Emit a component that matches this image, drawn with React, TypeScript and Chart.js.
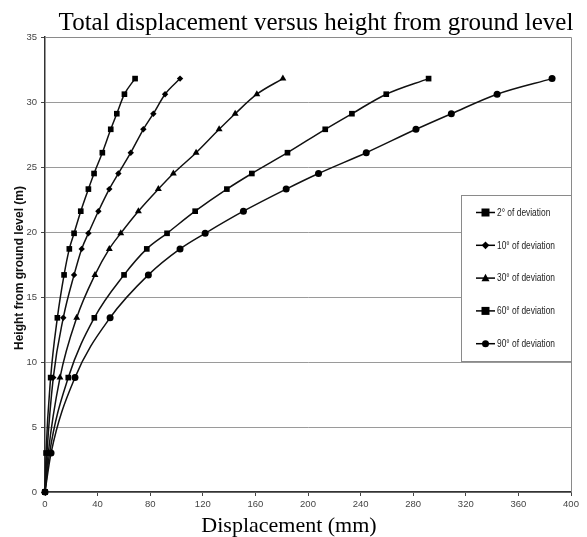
import React, { useEffect, useRef } from "react";
import { Chart, registerables } from "chart.js";

Chart.register(...registerables);

const heights = [0, 3.0, 8.8, 13.4, 16.7, 18.7, 19.9, 21.6, 23.3, 24.5, 26.1, 27.9, 29.1, 30.6, 31.8];
const disp2 = [0, 0.8, 4.3, 9.4, 14.5, 18.5, 22.1, 27.2, 33.0, 37.3, 43.6, 50.0, 54.6, 60.4, 68.5];
const disp10 = [0, 1.5, 6.3, 13.9, 22.1, 27.9, 33.0, 40.6, 48.9, 55.8, 65.2, 74.8, 82.4, 91.3, 102.7];
const disp30 = [0, 2.5, 11.4, 24.1, 38.0, 48.9, 57.6, 71.0, 86.2, 97.6, 114.9, 132.4, 144.6, 161.1, 180.9];
const disp60 = [0, 3.5, 17.7, 37.5, 60.1, 77.4, 92.8, 114.2, 138.3, 157.3, 184.4, 213.1, 233.4, 259.5, 291.7];
const disp90 = [0, 4.6, 22.8, 49.5, 78.6, 102.7, 121.8, 150.9, 183.4, 208.0, 244.3, 282.1, 309.0, 343.8, 385.6];

const seriesLabels = ["2° of deviation", "10° of deviation", "30° of deviation", "60° of deviation", "90° of deviation"];
const seriesValues = [disp2, disp10, disp30, disp60, disp90];
const seriesMarkers = ["rect", "rectRot", "triangle", "rect", "circle"];
const seriesRadius = [4, 3.2, 4, 4, 3.5];

const titleText = "Total displacement versus height from ground level";
const xTitleText = "Displacement (mm)";
const yTitleText = "Height from ground level (m)";

const SANS = '"Liberation Sans", Arial, sans-serif';
const SERIF = '"Liberation Serif", "Times New Roman", serif';

function drawMarker(ctx: CanvasRenderingContext2D, style: string, x: number, y: number, r: number) {
  ctx.beginPath();
  if (style === "rect") {
    ctx.rect(x - r, y - r, 2 * r, 2 * r);
  } else if (style === "rectRot") {
    ctx.moveTo(x, y - r * 1.2);
    ctx.lineTo(x + r * 1.2, y);
    ctx.lineTo(x, y + r * 1.2);
    ctx.lineTo(x - r * 1.2, y);
    ctx.closePath();
  } else if (style === "triangle") {
    ctx.moveTo(x, y - r * 1.1);
    ctx.lineTo(x + r, y + r * 0.8);
    ctx.lineTo(x - r, y + r * 0.8);
    ctx.closePath();
  } else {
    ctx.arc(x, y, r, 0, Math.PI * 2);
  }
  ctx.fill();
}

const decorPlugin = {
  id: "decor",
  beforeDatasetsDraw(chart: any) {
    const { ctx, chartArea } = chart;
    ctx.save();
    ctx.strokeStyle = "#8a8a8a";
    ctx.lineWidth = 1;
    ctx.beginPath();
    ctx.moveTo(chartArea.left, chartArea.top + 0.5);
    ctx.lineTo(chartArea.right + 0.5, chartArea.top + 0.5);
    ctx.lineTo(chartArea.right + 0.5, chartArea.bottom);
    ctx.stroke();
    ctx.restore();
  },
  afterDraw(chart: any) {
    const { ctx } = chart;
    ctx.save();
    // title
    ctx.fillStyle = "#000";
    ctx.font = `25px ${SERIF}`;
    ctx.textAlign = "center";
    ctx.textBaseline = "alphabetic";
    ctx.fillText(titleText, 316, 30);
    // x title
    ctx.font = `22px ${SERIF}`;
    ctx.fillText(xTitleText, 289, 532);
    // y title
    ctx.save();
    ctx.translate(20, 268);
    ctx.rotate(-Math.PI / 2);
    ctx.font = `bold 12px ${SANS}`;
    ctx.textBaseline = "middle";
    ctx.fillStyle = "#111";
    ctx.fillText(yTitleText, 0, 0);
    ctx.restore();

    // legend
    const lx = 461, ly = 195, lw = 110, lh = 166;
    ctx.fillStyle = "#fff";
    ctx.fillRect(lx, ly, lw, lh);
    ctx.strokeStyle = "#8a8a8a";
    ctx.lineWidth = 1;
    ctx.strokeRect(lx + 0.5, ly + 0.5, lw, lh);
    for (let i = 0; i < seriesLabels.length; i++) {
      const y = 212.5 + i * 32.8;
      ctx.strokeStyle = "#000";
      ctx.lineWidth = 1.5;
      ctx.beginPath();
      ctx.moveTo(476, y);
      ctx.lineTo(495, y);
      ctx.stroke();
      ctx.fillStyle = "#000";
      drawMarker(ctx, seriesMarkers[i], 485.5, y, seriesRadius[i]);
      ctx.save();
      ctx.translate(497, y + 0.5);
      ctx.scale(0.8, 1);
      ctx.font = `10.5px ${SANS}`;
      ctx.textAlign = "left";
      ctx.textBaseline = "middle";
      ctx.fillStyle = "#222";
      ctx.fillText(seriesLabels[i], 0, 0);
      ctx.restore();
    }
    ctx.restore();
  },
};

export default function App() {
  const ref = useRef<HTMLCanvasElement | null>(null);
  useEffect(() => {
    document.body.style.margin = "0";
    const canvas = ref.current;
    if (!canvas) return;
    const datasets = seriesLabels.map((label, i) => ({
      label,
      data: seriesValues[i].map((v, j) => ({ x: v, y: heights[j] })),
      showLine: true,
      borderColor: "#111",
      backgroundColor: "#000",
      borderWidth: 1.5,
      pointStyle: seriesMarkers[i] as any,
      pointRadius: seriesRadius[i],
      pointBorderWidth: 0,
      pointBackgroundColor: "#000",
      cubicInterpolationMode: "monotone" as const,
      clip: false as any,
    }));
    const chart = new Chart(canvas, {
      type: "scatter",
      data: { datasets },
      plugins: [decorPlugin],
      options: {
        animation: false,
        responsive: false,
        devicePixelRatio: 1,
        layout: { padding: { left: 0, right: 16, top: 37, bottom: 0 } },
        plugins: { legend: { display: false }, tooltip: { enabled: false }, title: { display: false } },
        scales: {
          x: {
            type: "linear",
            min: 0,
            max: 400,
            ticks: {
              stepSize: 40,
              color: "#444",
              font: { family: SANS, size: 9.5 },
              padding: 3,
              maxRotation: 0,
            },
            grid: { drawOnChartArea: false, drawTicks: true, tickLength: 4, color: "#444" },
            border: { color: "#333", width: 1.5 },
            afterFit: (s: any) => {
              s.height = 45;
            },
          },
          y: {
            type: "linear",
            min: 0,
            max: 35,
            ticks: {
              stepSize: 5,
              color: "#444",
              font: { family: SANS, size: 9.5 },
              padding: 4,
            },
            grid: { color: "#9a9a9a", lineWidth: 1, tickLength: 4, tickColor: "#444" },
            border: { color: "#333", width: 1.5 },
            afterFit: (s: any) => {
              s.width = 45;
            },
          },
        },
      },
    });
    return () => chart.destroy();
  }, []);
  return <canvas ref={ref} width={587} height={537} style={{ display: "block" }} />;
}
